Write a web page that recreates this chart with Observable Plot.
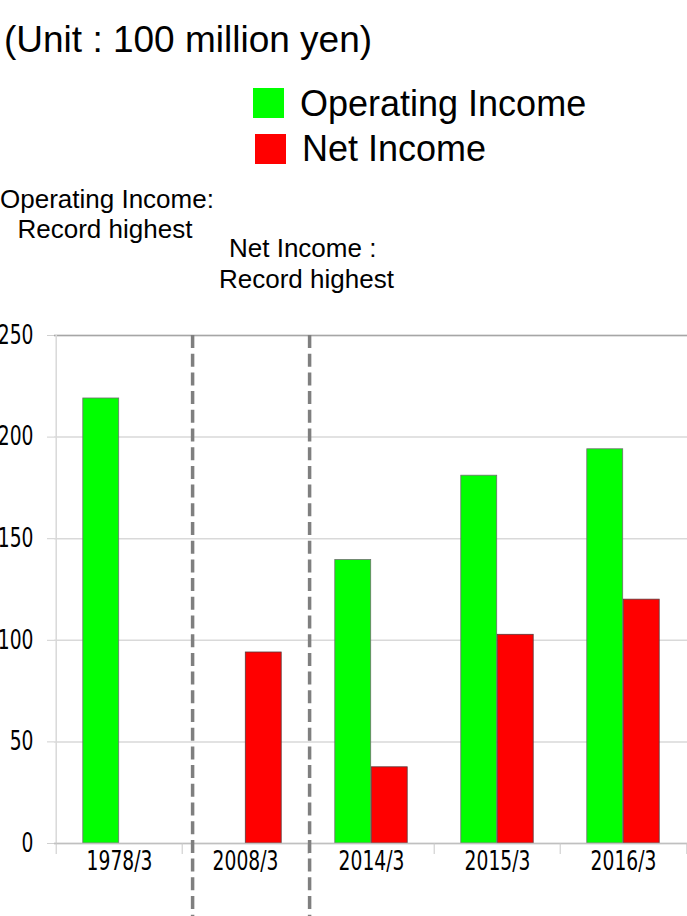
<!DOCTYPE html>
<html><head><meta charset="utf-8">
<script src="https://cdn.jsdelivr.net/npm/d3@7"></script>
<script src="https://cdn.jsdelivr.net/npm/@observablehq/plot@0.6"></script>
<style>
body{margin:0;background:#fff;}
#wrap{position:relative;width:687px;height:916px;overflow:hidden;font-family:"Liberation Sans",Arial,sans-serif;color:#000;}
.t{position:absolute;white-space:nowrap;line-height:normal;}
.sw{position:absolute;}
#wrap svg{position:absolute;left:0;top:0;}
</style></head><body>
<div id="wrap"></div>
<script>
const categories = ["1978/3", "2008/3", "2014/3", "2015/3", "2016/3"];
const operatingIncome = [219, null, 139.5, 181, 194];
const netIncome = [null, 94, 37.5, 102.7, 120];
const yTicks = [0, 50, 100, 150, 200, 250];
const seriesNames = ["Operating Income", "Net Income"];
const seriesColors = ["#00ff00", "#ff0000"];
const titleText = "(Unit : 100 million yen)";
const noteOperating = ["Operating Income:", "Record highest"];
const noteNet = ["Net Income :", "Record highest"];

const rows = categories.map((c, i) => ({category: c, op: operatingIncome[i], net: netIncome[i]}));

const W = 687, H = 916, ML = 54, MT = 335, MB = 73;
const step = (W - ML) / categories.length;
const half = step / 2;
const barW = 36.5;
const tickFont = '"Liberation Sans Narrow", "Arial Narrow", "DejaVu Sans Condensed", sans-serif';

const chart = Plot.plot({
  width: W, height: H,
  marginLeft: ML, marginRight: 0, marginTop: MT, marginBottom: MB,
  style: {fontFamily: tickFont, fontSize: "26px", color: "#000", background: "transparent", overflow: "visible"},
  x: {domain: categories, padding: 0, label: null},
  y: {domain: [0, 250], label: null},
  marks: [
    Plot.gridY(yTicks, {stroke: "#d9d9d9", strokeOpacity: 1, strokeWidth: 1.5}),
    Plot.ruleY([250], {stroke: "#a6a6a6", strokeWidth: 1.5}),
    Plot.ruleX([categories[0]], {dx: -half, stroke: "#d9d9d9", strokeWidth: 1.5}),
    Plot.axisY({ticks: yTicks, tickSize: 7, tickPadding: 14, stroke: "#d0d0d0", fill: "#000", label: null}),
    Plot.barY(rows, {x: "category", y: "op", fill: seriesColors[0], stroke: "#6e6e6e", strokeWidth: 0.8,
      insetLeft: half - barW, insetRight: half}),
    Plot.barY(rows, {x: "category", y: "net", fill: seriesColors[1], stroke: "#5a3a3a", strokeWidth: 0.8,
      insetLeft: half, insetRight: half - barW}),
    Plot.ruleY([0], {stroke: "#c0c0c0", strokeWidth: 1.5}),
    Plot.axisX({tickSize: 0, tickPadding: 8, fill: "#000", label: null}),
    Plot.axisX({tickSize: 11, tickFormat: () => "", dx: -half, stroke: "#c8c8c8", label: null}),
    Plot.axisX({ticks: [categories[categories.length - 1]], tickSize: 11, tickFormat: () => "", dx: half, stroke: "#c8c8c8", label: null}),
    Plot.ruleX([categories[1]], {dx: -52.9, stroke: "#7f7f7f", strokeWidth: 3.5, strokeDasharray: "13 5.7", insetBottom: -MB}),
    Plot.ruleX([categories[1]], {dx: 64.1, stroke: "#7f7f7f", strokeWidth: 3.5, strokeDasharray: "13 5.7", insetBottom: -MB})
  ]
});

const wrap = document.getElementById("wrap");
wrap.appendChild(chart);

// narrow the tick labels to mimic a condensed (Calibri-like) face
chart.querySelectorAll('g[aria-label$="tick label"] text').forEach(t => {
  const w = t.getComputedTextLength();
  if (w > 0) {
    t.setAttribute("textLength", (w * 0.8).toFixed(2));
    t.setAttribute("lengthAdjust", "spacingAndGlyphs");
  }
});

function addText(str, left, baseline, size, family) {
  const d = document.createElement("div");
  d.className = "t";
  d.textContent = str;
  d.style.left = left + "px";
  d.style.top = (baseline - 0.9215 * size) + "px";
  d.style.fontSize = size + "px";
  if (family) d.style.fontFamily = family;
  wrap.appendChild(d);
  return d;
}
function addSwatch(color, left, top, w, h) {
  const s = document.createElement("div");
  s.className = "sw";
  s.style.cssText += `left:${left}px;top:${top}px;width:${w}px;height:${h}px;background:${color};`;
  wrap.appendChild(s);
}

addText(titleText, 4, 53, 37);
addSwatch(seriesColors[0], 253, 88, 31, 30);
addText(seriesNames[0], 300, 116, 36);
addSwatch(seriesColors[1], 255, 134, 31, 30);
addText(seriesNames[1], 302, 161, 36);
addText(noteOperating[0], 0, 208, 26);
addText(noteOperating[1], 17.5, 238, 26);
addText(noteNet[0], 229, 257, 26);
addText(noteNet[1], 219, 288, 26);
</script>
</body></html>
